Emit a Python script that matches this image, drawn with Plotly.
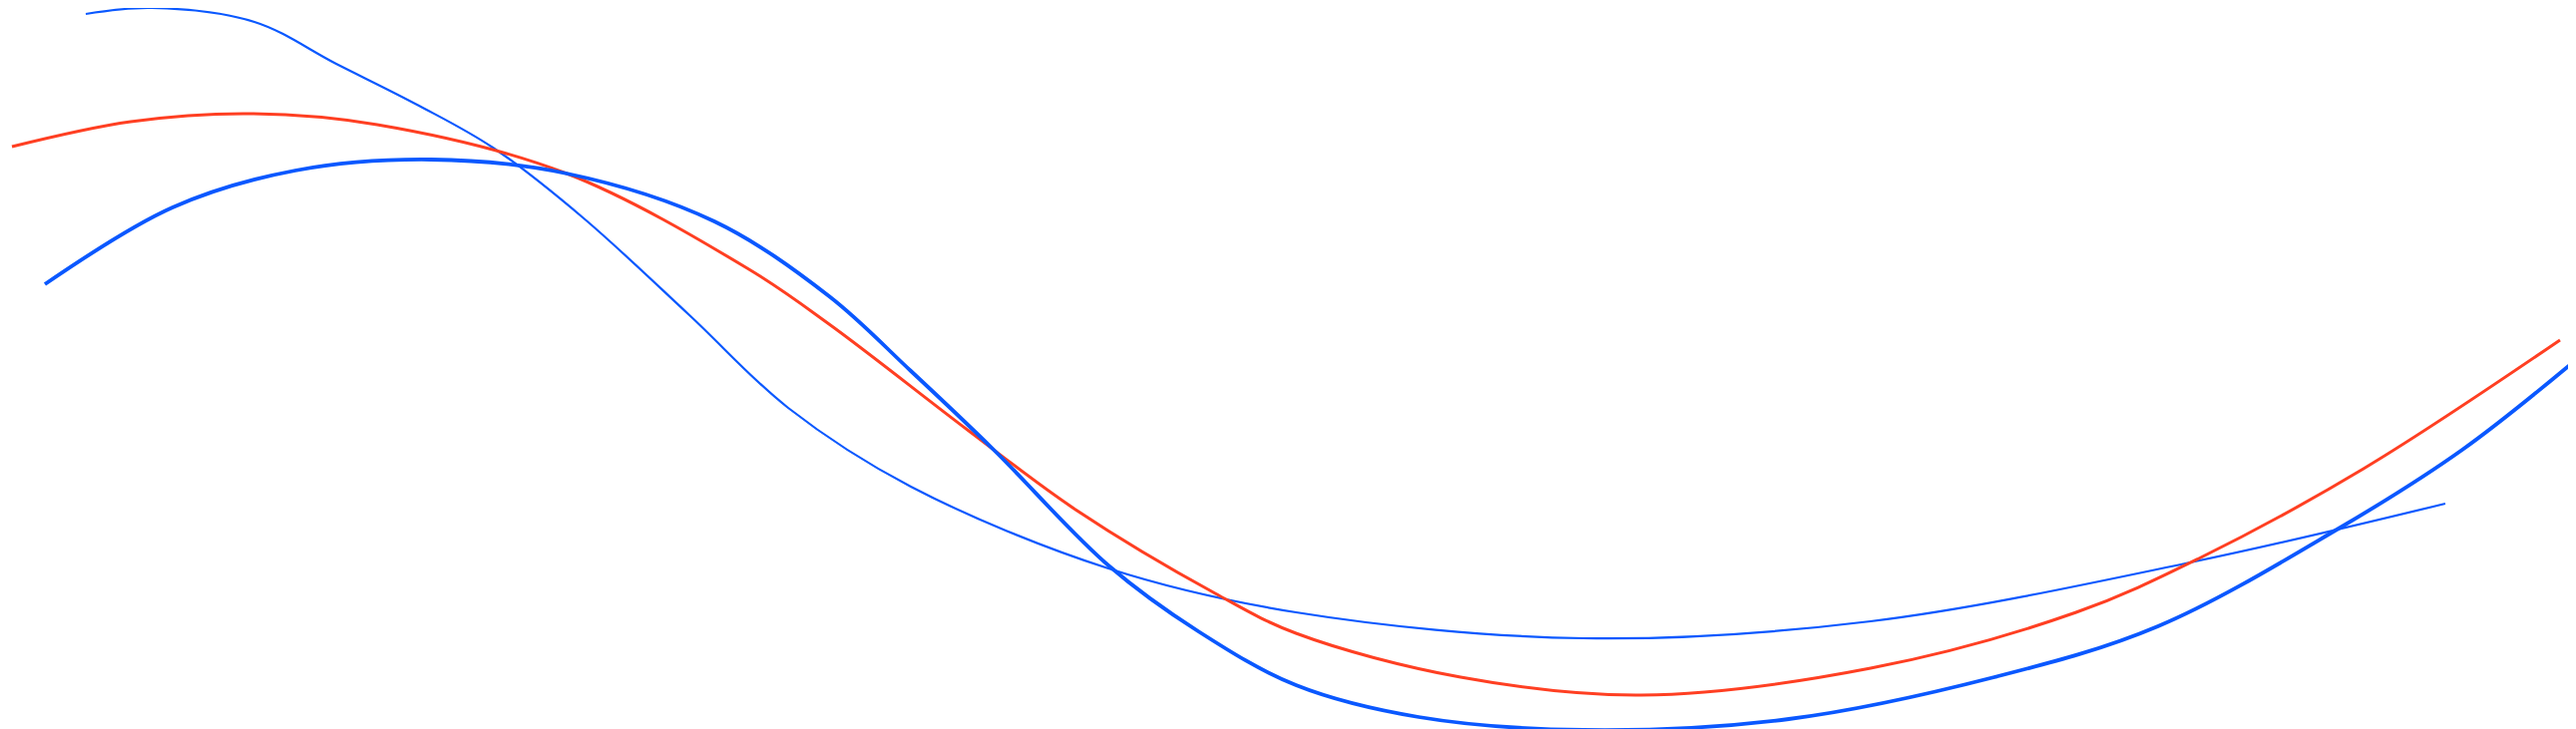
import plotly.graph_objects as go

# pixel-space points (x right, y down)
a_x = [78, 144, 247, 329, 412, 486, 576, 683, 782, 905, 1103, 1291, 1579, 1867, 2192, 2443]
a_y = [6, 0, 14, 56, 98, 140, 210, 308, 401, 480, 562, 606, 632, 615, 555, 497]
b_x = [37, 165, 288, 424, 560, 708, 823, 905, 988, 1103, 1193, 1291, 1414, 1579, 1785, 1991, 2155, 2336, 2460, 2575]
b_y = [277, 200, 163, 152, 166, 214, 289, 364, 443, 559, 625, 679, 711, 724, 713, 671, 620, 522, 443, 352]
r_x = [4, 123, 243, 370, 560, 741, 823, 963, 1070, 1210, 1291, 1456, 1637, 1867, 2073, 2196, 2361, 2558]
r_y = [139, 114, 106, 117, 166, 261, 317, 424, 503, 587, 627, 671, 689, 662, 606, 552, 462, 333]

BLUE = "#0a58ff"
RED = "#ff3f22"

fig = go.Figure()
for xs, ys, c, w in [(a_x, a_y, BLUE, 2.2), (r_x, r_y, RED, 3), (b_x, b_y, BLUE, 3.8)]:
    fig.add_trace(go.Scatter(x=xs, y=ys, mode="lines",
                             line=dict(color=c, width=w, shape="spline", smoothing=1.0),
                             hoverinfo="skip", showlegend=False))

fig.update_layout(
    width=2582, height=731, margin=dict(l=0, r=0, t=0, b=0),
    paper_bgcolor="white", plot_bgcolor="white",
    xaxis=dict(range=[0, 2582], visible=False),
    yaxis=dict(range=[731, 0], visible=False),
)
fig.write_html("out.html")
